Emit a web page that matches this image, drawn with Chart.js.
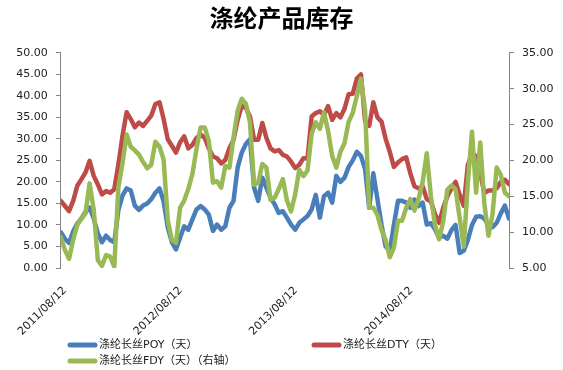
<!DOCTYPE html>
<html>
<head>
<meta charset="utf-8">
<script src="https://cdn.jsdelivr.net/npm/chart.js@4.4.1/dist/chart.umd.min.js"></script>
<style>
  html, body { margin: 0; padding: 0; background: #fff; }
  #wrap { width: 563px; height: 370px; }
</style>
</head>
<body>
<div id="wrap"><canvas id="c" width="563" height="370"></canvas></div>
<script>
// ---- data (samples, about every 13 days) ----
const startDate = Date.UTC(2011, 7, 12);
const DAY = 86400000;
const sampleDays = [];
for (let i = 0; i < 110; i++) sampleDays.push(i * 13);
const categories = sampleDays.map(d => {
  const t = new Date(startDate + d * DAY);
  return t.getUTCFullYear() + '/' + String(t.getUTCMonth() + 1).padStart(2, '0') + '/' + String(t.getUTCDate()).padStart(2, '0');
});
const tickLabels = ['2011/08/12', '2012/08/12', '2013/08/12', '2014/08/12'];
const seriesNames = ['涤纶长丝POY（天）', '涤纶长丝DTY（天）', '涤纶长丝FDY（天）（右轴）'];

const poy = [8.3, 6.8, 5.8, 8.5, 10.3, 11.5, 13.0, 14.0, 11.5, 8.0,
  6.0, 7.5, 6.5, 6.0, 13.5, 16.8, 18.5, 18.0, 14.5, 13.5,
  14.5, 15.0, 16.0, 17.5, 18.5, 15.5, 9.5, 6.0, 4.3, 7.0,
  9.7, 8.9, 11.3, 13.6, 14.4, 13.6, 12.4, 8.6, 10.1, 8.9,
  9.7, 14.0, 15.6, 23.3, 26.8, 28.8, 29.9, 18.7, 15.6, 21.0,
  18.7, 16.3, 14.8, 12.8, 13.2, 11.7, 10.1, 8.9, 10.5, 11.3,
  12.1, 13.6, 17.0, 11.7, 16.7, 17.5, 15.2, 21.4, 20.0, 21.0,
  23.5, 25.0, 27.0, 26.0, 23.0, 14.0, 22.0, 16.0, 10.0, 5.0,
  4.0, 10.0, 15.6, 15.6, 15.2, 14.0, 15.9, 14.4, 15.2, 10.1,
  10.4, 9.0, 7.0, 7.5, 6.8, 8.8, 10.0, 3.5, 4.0, 6.5,
  10.0, 11.9, 12.0, 11.5, 10.0, 9.5, 10.5, 12.7, 14.5, 11.5];

const dty = [15.6, 14.4, 13.2, 15.6, 19.1, 20.6, 22.2, 24.9, 21.4, 19.4,
  17.1, 17.9, 17.5, 18.3, 24.1, 30.7, 36.2, 34.6, 32.7, 33.8,
  33.0, 34.2, 35.4, 38.1, 38.5, 34.6, 29.9, 28.4, 26.8, 29.2,
  30.6, 27.8, 28.6, 30.2, 31.0, 30.2, 27.8, 25.9, 25.5, 24.3,
  25.1, 27.8, 29.8, 34.4, 37.6, 37.2, 35.2, 29.8, 29.8, 33.7,
  30.2, 27.8, 27.1, 27.4, 26.3, 25.9, 24.7, 23.2, 24.0, 25.5,
  25.5, 35.2, 36.0, 36.4, 35.6, 37.6, 34.4, 36.0, 35.0, 37.0,
  40.4, 40.5, 44.0, 45.0, 34.0, 33.0, 38.5, 35.0, 34.0, 30.0,
  27.0, 23.5, 24.5, 25.3, 25.7, 22.0, 19.0, 18.5, 19.0, 16.0,
  15.5, 12.5, 10.5, 14.0, 16.6, 18.5, 20.0, 17.0, 14.5, 24.0,
  26.5, 26.0, 22.0, 17.4, 18.0, 18.0, 18.5, 20.0, 20.5, 19.5];

const fdy = [9.3, 7.5, 6.3, 8.9, 11.0, 11.9, 12.6, 16.8, 13.1, 6.1,
  5.3, 6.8, 6.6, 5.2, 16.3, 19.6, 23.6, 21.9, 21.4, 20.8,
  19.8, 18.9, 19.4, 22.6, 21.9, 20.1, 11.7, 8.9, 8.5, 13.4,
  14.4, 16.0, 18.1, 21.6, 24.6, 24.6, 22.7, 16.9, 17.1, 16.2,
  19.2, 19.0, 23.2, 26.9, 28.6, 27.9, 25.3, 16.6, 16.9, 19.5,
  19.0, 14.5, 14.8, 16.0, 17.4, 14.4, 12.9, 15.3, 18.7, 17.8,
  18.6, 23.7, 25.3, 24.4, 26.7, 24.1, 20.6, 19.0, 21.2, 22.4,
  25.4, 26.6, 29.0, 31.4, 26.9, 13.4, 13.4, 12.4, 10.3, 8.9,
  6.5, 7.8, 11.6, 11.6, 13.4, 14.6, 13.0, 14.6, 17.0, 21.0,
  15.0, 11.0, 9.0, 11.5, 15.9, 16.5, 16.0, 12.0, 8.0, 17.0,
  24.0, 15.5, 22.5, 14.0, 9.5, 12.5, 19.0, 18.0, 15.5, 15.0];

const colors = ['#4A7EBB', '#BE4B48', '#98B954'];
const axisColor = '#868686';
const textColor = '#222';
const tickFont = { family: '"DejaVu Sans", sans-serif', size: 11 };

function dayOf(label) {
  const p = label.split('/').map(Number);
  return Math.round((Date.UTC(p[0], p[1] - 1, p[2]) - startDate) / DAY);
}
const toPoints = arr => arr.map((v, i) => ({ x: sampleDays[i], y: v }));

const legendPlugin = {
  id: 'customLegend',
  afterDraw(chart) {
    const ctx = chart.ctx;
    const pos = [[68, 345], [312, 345], [68, 361]];
    ctx.save();
    chart.data.datasets.forEach((ds, i) => {
      const [x, y] = pos[i];
      ctx.strokeStyle = ds.borderColor;
      ctx.lineWidth = 5;
      ctx.lineCap = 'round';
      ctx.beginPath();
      ctx.moveTo(x + 2, y);
      ctx.lineTo(x + 27, y);
      ctx.stroke();
      ctx.fillStyle = textColor;
      ctx.font = '11px "DejaVu Sans", "Noto Sans CJK SC", sans-serif';
      ctx.textBaseline = 'middle';
      ctx.textAlign = 'left';
      ctx.fillText(ds.label, x + 31, y);
    });
    ctx.restore();
  }
};

new Chart(document.getElementById('c'), {
  type: 'line',
  data: {
    labels: categories,
    datasets: [
      { label: seriesNames[0], data: toPoints(poy), borderColor: colors[0], yAxisID: 'yL', order: 2 },
      { label: seriesNames[1], data: toPoints(dty), borderColor: colors[1], yAxisID: 'yL', order: 1 },
      { label: seriesNames[2], data: toPoints(fdy), borderColor: colors[2], yAxisID: 'yR', order: 0 }
    ]
  },
  options: {
    responsive: false,
    animation: false,
    devicePixelRatio: 1,
    layout: { padding: { left: 0, right: 0, top: 0, bottom: 30 } },
    elements: {
      line: { borderWidth: 4.5, tension: 0, borderJoinStyle: 'round', borderCapStyle: 'round', fill: false },
      point: { radius: 0, hoverRadius: 0 }
    },
    plugins: {
      legend: { display: false },
      tooltip: { enabled: false },
      title: {
        display: true,
        text: '涤纶产品库存',
        color: '#000',
        font: { family: '"Noto Sans CJK SC", sans-serif', size: 24, weight: 'bold' },
        padding: { top: 3, bottom: 21 }
      }
    },
    scales: {
      x: {
        type: 'linear',
        min: sampleDays[0],
        max: sampleDays[sampleDays.length - 1],
        grid: { display: false, drawTicks: false },
        border: { display: false },
        afterBuildTicks: s => { s.ticks = tickLabels.map(t => ({ value: dayOf(t) })); },
        ticks: {
          autoSkip: false,
          maxRotation: 45,
          minRotation: 45,
          padding: 16,
          labelOffset: 4,
          color: textColor,
          font: tickFont,
          callback: v => { const k = tickLabels.findIndex(t => dayOf(t) === v); return k >= 0 ? tickLabels[k] : ''; }
        },
        afterFit: s => { s.height = 72; }
      },
      yL: {
        position: 'left',
        min: 0, max: 50,
        ticks: { stepSize: 5, padding: 8, color: textColor, font: tickFont, callback: v => Number(v).toFixed(2) },
        grid: { drawOnChartArea: false, tickLength: 5, color: axisColor },
        border: { color: axisColor },
        afterFit: s => { s.width = 54; }
      },
      yR: {
        position: 'right',
        min: 5, max: 35,
        ticks: { stepSize: 5, padding: 8, color: textColor, font: tickFont, callback: v => Number(v).toFixed(2) },
        grid: { drawOnChartArea: false, tickLength: 5, color: axisColor },
        border: { color: axisColor },
        afterFit: s => { s.width = 54; }
      }
    }
  },
  plugins: [legendPlugin]
});
</script>
</body>
</html>
